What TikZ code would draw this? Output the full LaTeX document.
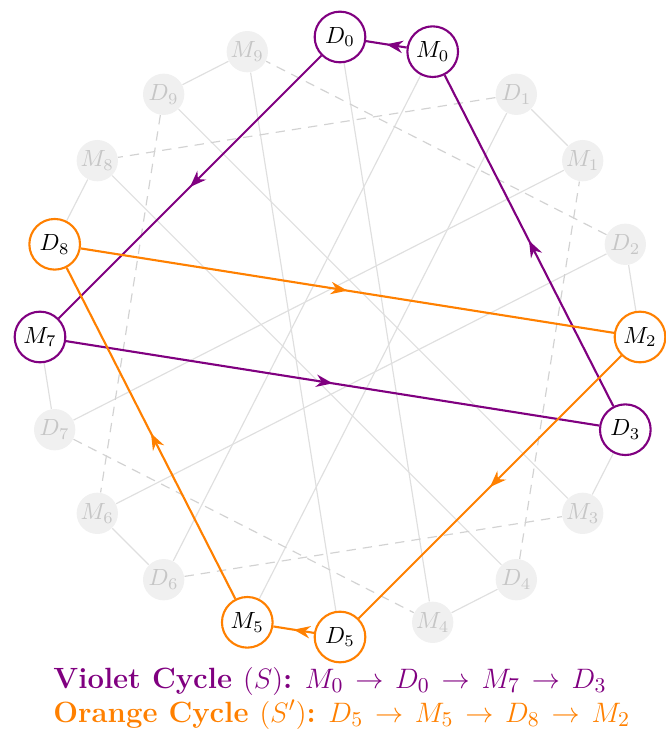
\documentclass[tikz,border=0pt]{standalone}
\usetikzlibrary{arrows.meta,decorations.markings,backgrounds}
\newcommand{\nxt}{\mskip2.5mu\to\mskip2.5mu}
\begin{document}
\begin{tikzpicture}[
    >=Stealth, % arrow tips
    faded/.style={circle, fill=gray!12, text=gray!45, inner sep=0pt, minimum size=0.62cm},
    vio/.style={circle, draw=violet, line width=0.9pt, fill=white, inner sep=0pt, minimum size=0.76cm},
    ora/.style={circle, draw=orange, line width=0.9pt, fill=white, inner sep=0pt, minimum size=0.76cm},
    link/.style={gray!25, line width=0.5pt},
    dlink/.style={gray!35, line width=0.5pt, dash pattern=on 4pt off 3pt},
    midarrow/.style={postaction={decorate}, decoration={markings, mark=at position 0.5 with {\arrow{>}}}},
    vcycle/.style={violet, line width=0.9pt, midarrow},
    ocycle/.style={orange, line width=0.9pt, midarrow},
    legendtext/.style={anchor=base west, inner sep=0pt, font=\fontsize{12.5}{15}\selectfont}
]
    \useasboundingbox (-5.1,-5.895) rectangle (4.875,5.055);

    % 20 Knoten auf dem Kreis: D_k bei 90-36k, M_k bei 72-36k
    \foreach \k/\ds/\ms in {0/vio/vio, 1/faded/faded, 2/faded/ora, 3/vio/faded, 4/faded/faded,
                             5/ora/ora, 6/faded/faded, 7/faded/vio, 8/ora/faded, 9/faded/faded} {
        \node[\ds] (D\k) at ({90-36*\k}:4.5) {$D_{\k}$};
        \node[\ms] (M\k) at ({72-36*\k}:4.5) {$M_{\k}$};
    }

    \begin{scope}[on background layer]
        % graue Kanten D_k -- M_k
        \foreach \k in {1,2,3,4,6,7,8,9}
            \draw[link] (D\k) -- (M\k);
        % graue Kanten D_k -- M_{k+4}
        \foreach \k in {0,1,2,4,5,6,7,9} {
            \pgfmathtruncatemacro{\j}{mod(\k+4,10)}
            \draw[link] (D\k) -- (M\j);
        }
        % gestrichelte Kanten D_k -- M_{k+7}
        \foreach \k in {1,2,4,6,7,9} {
            \pgfmathtruncatemacro{\j}{mod(\k+7,10)}
            \draw[dlink] (D\k) -- (M\j);
        }

        % 1. violetter Kreis S
        \draw[vcycle] (M0) -- (D0);
        \draw[vcycle] (D0) -- (M7);
        \draw[vcycle] (M7) -- (D3);
        \draw[vcycle] (D3) -- (M0);

        % 2. oranger Kreis S'
        \draw[ocycle] (D5) -- (M5);
        \draw[ocycle] (M5) -- (D8);
        \draw[ocycle] (D8) -- (M2);
        \draw[ocycle] (M2) -- (D5);
    \end{scope}

    % Legende
    \node[legendtext, violet] (legendS) at (-4.305,-5.265)
        {\textbf{Violet Cycle $(S)$:} $M_0 \nxt D_0 \nxt M_7 \nxt D_3$};
    \node[legendtext, orange] (legendSp) at (-4.305,-5.775)
        {\textbf{Orange Cycle $(S')$:} $D_5 \nxt M_5 \nxt D_8 \nxt M_2$};
\end{tikzpicture}
\end{document}
